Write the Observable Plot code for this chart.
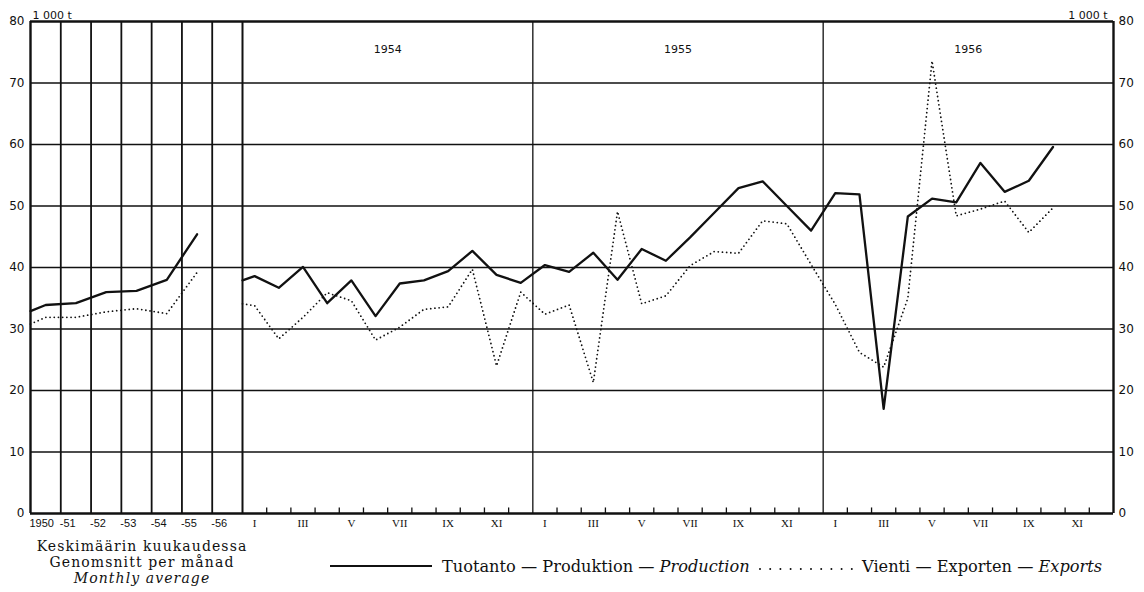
<!DOCTYPE html>
<html><head><meta charset="utf-8">
<script src="https://cdn.jsdelivr.net/npm/d3@7"></script>
<script src="https://cdn.jsdelivr.net/npm/@observablehq/plot@0.6"></script>
<style>
body{margin:0;background:#fff;}
#wrap{position:relative;width:1144px;height:592px;overflow:hidden;background:#fff;color:#111;}
#chart svg{display:block;}
#caption{position:absolute;left:22px;top:538px;width:240px;text-align:center;font:14px/16px "DejaVu Serif",serif;letter-spacing:1.1px;}
.leg{position:absolute;font:16.2px/17px "DejaVu Serif",serif;white-space:nowrap;}
#legLine{position:absolute;left:330px;top:565px;width:102px;height:2.2px;background:#111;}
#legDots{position:absolute;left:757px;top:563px;}
</style></head><body>
<div id="wrap">
<div id="chart"></div>
<div id="caption">Keskimäärin kuukaudessa<br>Genomsnitt per månad<br><i>Monthly average</i></div>
<div id="legLine"></div>
<div class="leg" style="left:442px;top:558px;">Tuotanto — Produktion — <i>Production</i></div>
<svg id="legDots" width="100" height="10"><line x1="3" x2="95" y1="6" y2="6" stroke="#111" stroke-width="2" stroke-linecap="round" stroke-dasharray="0 10.2"/></svg>
<div class="leg" style="left:862px;top:558px;">Vienti — Exporten — <i>Exports</i></div>
</div>
<script>
// Annual columns (monthly averages)
const yearLabels = ["1950", "-51", "-52", "-53", "-54", "-55", "-56"];
const annualProduction = [33.9, 34.2, 36.0, 36.2, 38.0, 45.4];
const annualExports = [31.9, 31.9, 32.8, 33.3, 32.5, 39.2];

// Monthly section
const monthYears = ["1954", "1955", "1956"];
const monthNames = ["I", "II", "III", "IV", "V", "VI", "VII", "VIII", "IX", "X", "XI", "XII"];
const monthlyProduction = [
  38.6, 36.7, 40.1, 34.2, 37.9, 32.1, 37.4, 37.9, 39.4, 42.7, 38.8, 37.5,
  40.4, 39.3, 42.4, 38.0, 43.0, 41.1, 44.9, 48.9, 52.9, 54.0, 50.0, 46.0,
  52.1, 51.9, 17.0, 48.3, 51.2, 50.6, 57.0, 52.3, 54.1, 59.6
];
const monthlyExports = [
  33.8, 28.4, 31.9, 35.9, 34.6, 28.2, 30.3, 33.2, 33.6, 39.7, 24.0, 36.0,
  32.4, 33.9, 21.3, 49.1, 34.1, 35.4, 40.3, 42.6, 42.3, 47.6, 47.1, 40.5,
  34.0, 26.2, 23.8, 35.0, 73.6, 48.4, 49.5, 50.8, 45.7, 49.7
];
// value at the left edge of each section where the line begins [annual, monthly]
const leadInProduction = [32.9, 37.9];
const leadInExports = [30.8, 34.1];

const yTicks = [0, 10, 20, 30, 40, 50, 60, 70, 80];

// ---- build table ----
const nYears = yearLabels.length;
const nMonths = monthYears.length * 12;
const rows = [];
function addSegment(segment, series, start, lead, values) {
  rows.push({segment, series, pos: start, value: lead});
  values.forEach((v, i) => rows.push({segment, series, pos: start + i + 0.5, value: v}));
}
addSegment("annual", "prod", 0, leadInProduction[0], annualProduction);
addSegment("monthly", "prod", nYears, leadInProduction[1], monthlyProduction);
addSegment("annual", "exp", 0, leadInExports[0], annualExports);
addSegment("monthly", "exp", nYears, leadInExports[1], monthlyExports);

const monthLabelRows = d3.range(0, nMonths, 2).map(k => ({pos: nYears + k + 0.5, text: monthNames[k % 12]}));
const monthBoundaries = d3.range(1, nMonths).filter(k => k % 12 !== 0).map(k => nYears + k);
const yearBoundaries = d3.range(1, monthYears.length).map(k => nYears + 12 * k);
const columnLines = d3.range(1, nYears);

const W = 1144, H = 538;
const chart = Plot.plot({
  width: W, height: H,
  marginLeft: 30, marginRight: 31, marginTop: 21, marginBottom: 25,
  style: {fontFamily: "DejaVu Sans", fontSize: "12px", color: "#111", background: "#fff"},
  x: {type: "linear", domain: [0, nYears, nYears + nMonths], range: [30, 242, 1113], axis: null},
  y: {domain: [0, 80], axis: null},
  marks: [
    Plot.ruleY(yTicks.slice(1, -1), {stroke: "#111", strokeWidth: 1.6}),
    Plot.ruleX(columnLines, {stroke: "#111", strokeWidth: 1.8}),
    Plot.ruleX(yearBoundaries, {stroke: "#111", strokeWidth: 1.3}),
    Plot.ruleX([nYears], {stroke: "#111", strokeWidth: 2}),
    Plot.ruleX(monthBoundaries, {x: d => d, y1: 0, y2: 0.9, stroke: "#111", strokeWidth: 1.3}),
    Plot.ruleY([0, 80], {stroke: "#111", strokeWidth: 2.4}),
    Plot.ruleX([0, nYears + nMonths], {stroke: "#111", strokeWidth: 2.4}),
    Plot.line(rows.filter(d => d.series === "exp"), {x: "pos", y: "value", z: "segment", stroke: "#111", strokeWidth: 1.8, strokeLinecap: "round", strokeDasharray: "0 4.2"}),
    Plot.line(rows.filter(d => d.series === "prod"), {x: "pos", y: "value", z: "segment", stroke: "#111", strokeWidth: 2.3}),
    Plot.axisY({anchor: "left", ticks: yTicks, tickSize: 0, tickPadding: 6, label: null, fontSize: 12}),
    Plot.axisY({anchor: "right", ticks: yTicks, tickSize: 0, tickPadding: 5, label: null, fontSize: 12}),
    Plot.text(yearLabels, {x: (d, i) => i, text: d => d, frameAnchor: "bottom", dy: 13, dx: -1, textAnchor: "start", fontSize: 11, fontFamily: "Liberation Sans"}),
    Plot.text(monthLabelRows, {x: "pos", text: "text", frameAnchor: "bottom", dy: 13, fontSize: 11, fontFamily: "Liberation Serif"}),
    Plot.text(monthYears, {x: (d, i) => nYears + 12 * i + 6, text: d => d, frameAnchor: "top", dy: 24, fontSize: 11}),
    Plot.text(["1 000 t"], {frameAnchor: "top-left", textAnchor: "start", lineAnchor: "bottom", dx: 2, dy: -3, fontSize: 11, letterSpacing: "1px"}),
    Plot.text(["1 000 t"], {frameAnchor: "top-right", textAnchor: "end", lineAnchor: "bottom", dx: -6, dy: -3, fontSize: 11, letterSpacing: "1px"})
  ]
});
document.getElementById("chart").appendChild(chart);
</script>
</body></html>
